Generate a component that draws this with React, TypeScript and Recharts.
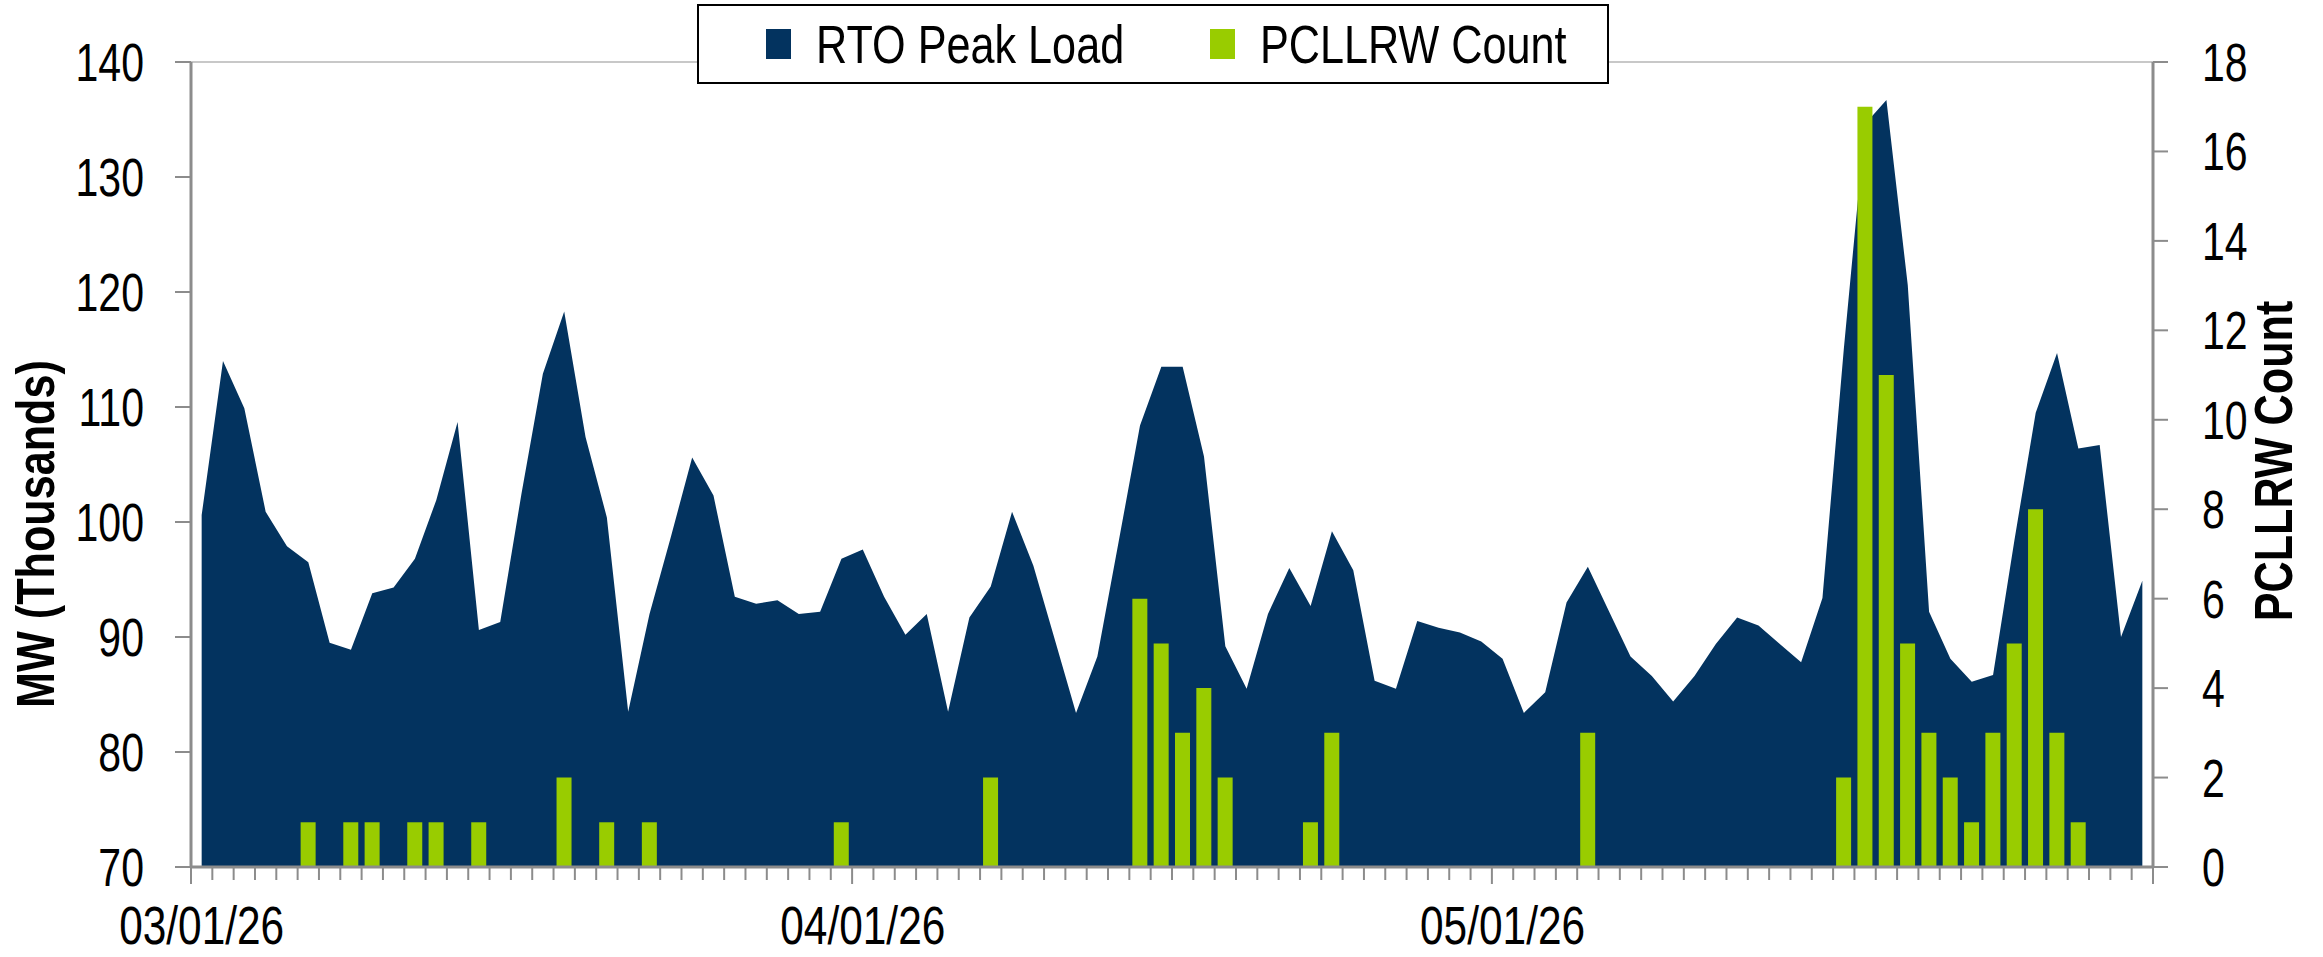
import React from "react"
import {
  ComposedChart,
  Area,
  Bar,
  XAxis,
  YAxis,
  Legend,
  ReferenceLine,
} from "recharts"

// daily values, 03/01/26 .. 05/31/26
const startDay = { year: 2026, month: 3, day: 1 }
const dayCount = 92

// RTO peak load, MW (thousands)
const peakLoad = [
  100.6, 114.0, 109.9, 100.9, 97.9, 96.5, 89.5, 88.9, 93.8, 94.3,
  96.8, 101.9, 108.7, 90.6, 91.3, 102.5, 112.9, 118.3, 107.4, 100.4,
  83.5, 92.0, 98.7, 105.6, 102.3, 93.5, 92.9, 93.2, 92.0, 92.2,
  96.8, 97.6, 93.5, 90.2, 92.0, 83.5, 91.7, 94.4, 100.9, 96.2,
  89.8, 83.4, 88.3, 98.3, 108.4, 113.5, 113.5, 105.7, 89.2, 85.5,
  92.0, 96.0, 92.7, 99.2, 95.8, 86.2, 85.5, 91.4, 90.8, 90.4,
  89.6, 88.1, 83.4, 85.2, 93.0, 96.1, 92.2, 88.3, 86.6, 84.4,
  86.6, 89.4, 91.7, 91.0, 89.4, 87.8, 93.4, 115.0, 134.6, 136.7,
  120.6, 92.2, 88.1, 86.1, 86.7, 98.4, 109.5, 114.7, 106.4, 106.7,
  90.0, 94.9,
]

// PCLLRW count per day
const pcllrwCount = [
  0, 0, 0, 0, 0, 1, 0, 1, 1, 0,
  1, 1, 0, 1, 0, 0, 0, 2, 0, 1,
  0, 1, 0, 0, 0, 0, 0, 0, 0, 0,
  1, 0, 0, 0, 0, 0, 0, 2, 0, 0,
  0, 0, 0, 0, 6, 5, 3, 4, 2, 0,
  0, 0, 1, 3, 0, 0, 0, 0, 0, 0,
  0, 0, 0, 0, 0, 3, 0, 0, 0, 0,
  0, 0, 0, 0, 0, 0, 0, 2, 17, 11,
  5, 3, 2, 1, 3, 5, 8, 3, 1, 0,
  0, 0,
]

const loadTicks = [70, 80, 90, 100, 110, 120, 130, 140]
const countTicks = [0, 2, 4, 6, 8, 10, 12, 14, 16, 18]

const pad = (n: number) => String(n).padStart(2, "0")
const dates: string[] = []
for (let i = 0; i < dayCount; i++) {
  const d = new Date(startDay.year, startDay.month - 1, startDay.day + i)
  dates.push(`${pad(d.getMonth() + 1)}/${pad(d.getDate())}/${String(d.getFullYear()).slice(2)}`)
}

const data = dates.map((date, i) => ({
  date,
  load: peakLoad[i],
  count: pcllrwCount[i],
}))

const W = 2323
const H = 957
const LEFT_W = 191
const RIGHT_W = 170
const TOP = 62
const X_H = 90
const BAND = (W - LEFT_W - RIGHT_W) / dates.length

const NAVY = "#03335F"
const GREEN = "#99CC00"
const AXIS = "#8C8C8C"
const FONT = "'Liberation Sans', Arial, sans-serif"

function DateTick(props: any) {
  const { x, y, payload } = props
  const i = payload.index
  const label = dates[i]
  const monthStart = label.slice(3, 5) === "01"
  const left = x - BAND / 2
  return (
    <g>
      <line x1={left} x2={left} y1={y} y2={y + (monthStart ? 17 : 13)} stroke={AXIS} strokeWidth={2} />
      {i === dates.length - 1 && (
        <line x1={x + BAND / 2} x2={x + BAND / 2} y1={y} y2={y + 17} stroke={AXIS} strokeWidth={2} />
      )}
      {monthStart && (
        <text
          transform={`translate(${x},${y + 77}) scale(0.8,1)`}
          textAnchor="middle"
          fontSize={53}
          fontFamily={FONT}
          fill="#000"
        >
          {label}
        </text>
      )}
    </g>
  )
}

function LoadTick(props: any) {
  const { x, y, payload } = props
  return (
    <text
      transform={`translate(${x},${y + 19}) scale(0.76,1)`}
      textAnchor="end"
      fontSize={54}
      fontFamily={FONT}
      fill="#000"
    >
      {payload.value}
    </text>
  )
}

function CountTick(props: any) {
  const { x, y, payload } = props
  return (
    <text
      transform={`translate(${x},${y + 19}) scale(0.76,1)`}
      textAnchor="start"
      fontSize={54}
      fontFamily={FONT}
      fill="#000"
    >
      {payload.value}
    </text>
  )
}

const axisTitle = (text: string, x: number, y: number) => () => (
  <text
    transform={`translate(${x},${y}) rotate(-90) scale(0.8,1)`}
    textAnchor="middle"
    fontSize={54}
    fontWeight="bold"
    fontFamily={FONT}
    fill="#000"
  >
    {text}
  </text>
)

function LegendBox() {
  const items = [
    { name: "RTO Peak Load", color: NAVY, left: 67 },
    { name: "PCLLRW Count", color: GREEN, left: 511 },
  ]
  return (
    <div
      style={{
        position: "relative",
        width: 908,
        height: 76,
        border: "2px solid #000",
        background: "#fff",
        fontFamily: FONT,
      }}
    >
      {items.map((it) => (
        <div
          key={it.name}
          style={{ position: "absolute", left: it.left, top: 0, height: 76, display: "flex", alignItems: "center" }}
        >
          <span style={{ display: "inline-block", width: 25, height: 30, background: it.color, marginRight: 25 }} />
          <span
            style={{
              display: "inline-block",
              fontSize: 54,
              lineHeight: "54px",
              whiteSpace: "nowrap",
              transform: "scale(0.8,1)",
              transformOrigin: "left center",
              color: "#000",
            }}
          >
            {it.name}
          </span>
        </div>
      ))}
    </div>
  )
}

export default function App() {
  return (
    <div style={{ position: "absolute", left: 0, top: 0, width: W, height: H, background: "#fff" }}>
      <ComposedChart width={W} height={H} data={data} margin={{ top: TOP, right: 0, bottom: 0, left: 0 }}>
        <XAxis
          dataKey="date"
          interval={0}
          height={X_H}
          tickLine={false}
          tickSize={0}
          tickMargin={0}
          tick={<DateTick />}
          axisLine={{ stroke: AXIS, strokeWidth: 3 }}
        />
        <YAxis
          yAxisId="left"
          width={LEFT_W}
          domain={[70, 140]}
          ticks={loadTicks}
          tickSize={16}
          tickMargin={31}
          tick={<LoadTick />}
          tickLine={{ stroke: AXIS, strokeWidth: 2 }}
          axisLine={{ stroke: AXIS, strokeWidth: 3 }}
          label={{ content: axisTitle("MW (Thousands)", 54, 534) }}
        />
        <YAxis
          yAxisId="right"
          orientation="right"
          width={RIGHT_W}
          domain={[0, 18]}
          ticks={countTicks}
          tickSize={15}
          tickMargin={34}
          tick={<CountTick />}
          tickLine={{ stroke: AXIS, strokeWidth: 2 }}
          axisLine={{ stroke: AXIS, strokeWidth: 3 }}
          label={{ content: axisTitle("PCLLRW Count", 2292, 461) }}
        />
        <ReferenceLine yAxisId="left" y={140} stroke="#C8C8C8" strokeWidth={2} />
        <Area
          yAxisId="left"
          type="linear"
          dataKey="load"
          name="RTO Peak Load"
          fill={NAVY}
          fillOpacity={1}
          stroke="none"
          dot={false}
          activeDot={false}
          isAnimationActive={false}
        />
        <Bar
          yAxisId="right"
          dataKey="count"
          name="PCLLRW Count"
          fill={GREEN}
          barSize={15}
          isAnimationActive={false}
        />
        <Legend
          layout="horizontal"
          verticalAlign="middle"
          align="center"
          content={<LegendBox />}
          wrapperStyle={{ position: "absolute", left: 697, top: 4, width: 912, height: 80 }}
        />
      </ComposedChart>
    </div>
  )
}
